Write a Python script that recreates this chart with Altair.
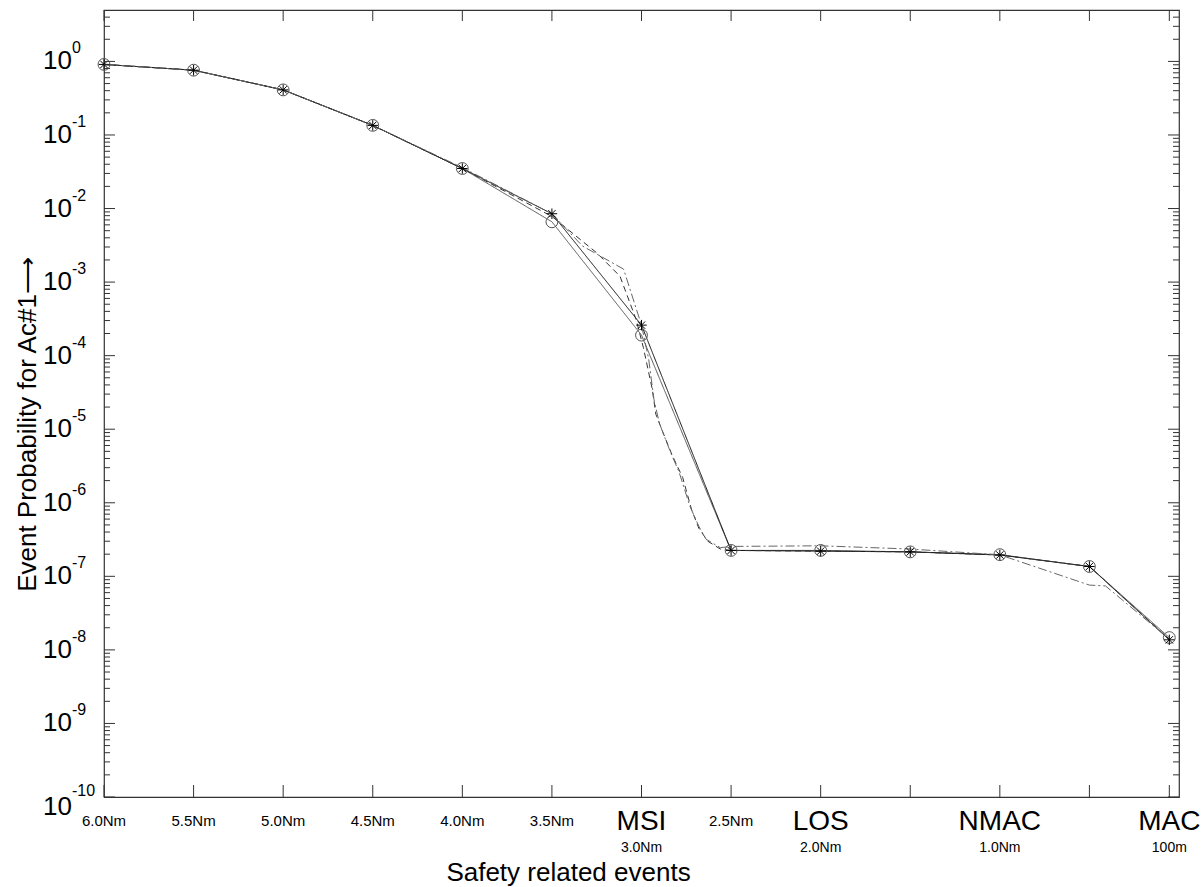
import altair as alt
import pandas as pd

# ---------------- data ----------------
# distance in Nm, plotted reversed from 6.0 Nm down to 0 (MAC = 100 m = 0.054 Nm)
dist = [6.0, 5.5, 5.0, 4.5, 4.0, 3.5, 3.0, 2.5, 2.0, 1.5, 1.0, 0.5, 0.054]
p_circle = [0.91, 0.76, 0.41, 0.135, 0.035, 0.0066, 1.9e-4, 2.25e-7, 2.25e-7, 2.15e-7, 1.97e-7, 1.36e-7, 1.47e-8]
p_star = [0.91, 0.76, 0.41, 0.135, 0.035, 0.0085, 2.6e-4, 2.25e-7, 2.2e-7, 2.15e-7, 1.95e-7, 1.36e-7, 1.37e-8]

dist_dash = [6.0, 5.5, 5.0, 4.5, 4.0, 3.5, 3.25, 3.12, 3.03, 2.99, 2.94, 2.92, 2.88, 2.83,
             2.77, 2.72, 2.68, 2.63, 2.56, 2.5, 2.0, 1.5, 1.0, 0.5, 0.054]
p_dash = [0.91, 0.76, 0.41, 0.135, 0.035, 0.0078, 2.5e-3, 1.2e-3, 3.1e-4, 1.3e-4, 3.5e-5, 1.6e-5,
          9e-6, 4.5e-6, 2.2e-6, 8e-7, 4.5e-7, 3e-7, 2.35e-7, 2.25e-7, 2.2e-7, 2.15e-7, 1.95e-7, 1.36e-7, 1.4e-8]

dist_dashdot = [6.0, 5.5, 5.0, 4.5, 4.0, 3.5, 3.33, 3.10, 3.0, 2.96, 2.93, 2.90, 2.84, 2.79,
                2.73, 2.68, 2.64, 2.56, 2.5, 2.0, 1.5, 1.0, 0.5, 0.41, 0.054]
p_dashdot = [0.91, 0.76, 0.41, 0.135, 0.036, 0.0085, 3.1e-3, 1.5e-3, 2.6e-4, 9e-5, 2.5e-5, 1.2e-5,
             5e-6, 2.6e-6, 9e-7, 4.8e-7, 3.2e-7, 2.45e-7, 2.55e-7, 2.6e-7, 2.35e-7, 1.96e-7, 7.6e-8, 7.4e-8, 1.4e-8]

small_lab_d = [6.0, 5.5, 5.0, 4.5, 4.0, 3.5, 2.5]
small_lab = ["6.0Nm", "5.5Nm", "5.0Nm", "4.5Nm", "4.0Nm", "3.5Nm", "2.5Nm"]
event_d = [3.0, 2.0, 1.0, 0.054]
event_name = ["MSI", "LOS", "NMAC", "MAC"]
event_sub = ["3.0Nm", "2.0Nm", "1.0Nm", "100m"]

exponents = list(range(0, -11, -1))

# ---------------- tables ----------------
series_names = ["circle", "star", "dashed", "dashdot"]
lines = pd.concat([
    pd.DataFrame({"d": dist, "p": p_circle, "s": "circle"}),
    pd.DataFrame({"d": dist, "p": p_star, "s": "star"}),
    pd.DataFrame({"d": dist_dash, "p": p_dash, "s": "dashed"}),
    pd.DataFrame({"d": dist_dashdot, "p": p_dashdot, "s": "dashdot"}),
], ignore_index=True)
lines["o"] = range(len(lines))

circ = pd.DataFrame({"d": dist, "p": p_circle})
star = pd.DataFrame({"d": dist, "p": p_star})

xt = pd.DataFrame({"d": dist})
major = pd.DataFrame({"p": [10.0 ** k for k in exponents]})
minor_vals = [m * 10.0 ** k for k in range(-10, 1) for m in range(2, 10) if m * 10.0 ** k < 4.9]
minor = pd.DataFrame({"p": minor_vals})

ylab = pd.DataFrame({"p": [10.0 ** k for k in exponents if k > -10],
                     "b": "10", "e": [str(k) for k in exponents if k > -10]})
ylab_bot = pd.DataFrame({"p": [1e-10], "b": "10", "e": ["-10"]})

small = pd.DataFrame({"d": small_lab_d, "t": small_lab})
events = pd.DataFrame({"d": event_d, "n": event_name, "sub": event_sub})

# ---------------- encodings ----------------
W, H = 1075, 787
FONT = "Liberation Sans, Arial, Helvetica, sans-serif"

xs = alt.Scale(domain=[0, 6], reverse=True, nice=False, zero=False)
ys = alt.Scale(type="log", domain=[1e-10, 5], nice=False)
xaxis = alt.Axis(title="Safety related events", labels=False, ticks=False, domain=False, grid=False,
                 titleFont=FONT, titleFontSize=26, titleFontWeight="normal", titleColor="black",
                 titleX=464, titleY=75, titleBaseline="middle", titleAlign="center")
yaxis = alt.Axis(title="Event Probability for Ac#1\u27f6", labels=False, ticks=False, domain=False, grid=False,
                 titleFont=FONT, titleFontSize=26, titleFontWeight="normal", titleColor="black",
                 titleX=-77, titleY=414, titleBaseline="middle", titleAlign="center", titleAngle=270)


def X(f="d"):
    return alt.X(f + ":Q", scale=xs, axis=xaxis)


def Y(f="p"):
    return alt.Y(f + ":Q", scale=ys, axis=yaxis)


line_layer = alt.Chart(lines).mark_line(strokeWidth=1, clip=True).encode(
    x=X(), y=Y(),
    detail="s:N",
    order="o:Q",
    color=alt.Color("s:N", scale=alt.Scale(domain=series_names, range=["#555555", "#111111", "#333333", "#666666"]), legend=None),
    strokeDash=alt.StrokeDash("s:N", scale=alt.Scale(domain=series_names, range=[[1, 0], [1, 0], [6, 4], [9, 3, 2, 3]]), legend=None),
)

circle_layer = alt.Chart(circ).mark_point(shape="circle", size=140, filled=False, color="#555555", strokeWidth=1, opacity=1).encode(
    x=X(), y=Y())

star_path = "M-1,0L1,0M0,-1L0,1M-0.7,-0.7L0.7,0.7M-0.7,0.7L0.7,-0.7"
star_layer = alt.Chart(star).mark_point(shape=star_path, size=110, filled=False, color="#000000", strokeWidth=1, opacity=1).encode(
    x=X(), y=Y())

TICK = "#333333"
xt_bottom = alt.Chart(xt).mark_rule(color=TICK, strokeWidth=1).encode(x=X(), y=alt.value(H), y2=alt.value(H - 12))
xt_top = alt.Chart(xt).mark_rule(color=TICK, strokeWidth=1).encode(x=X(), y=alt.value(0), y2=alt.value(11))
yt_l_major = alt.Chart(major).mark_rule(color=TICK, strokeWidth=1).encode(y=Y(), x=alt.value(0), x2=alt.value(11))
yt_l_minor = alt.Chart(minor).mark_rule(color=TICK, strokeWidth=1).encode(y=Y(), x=alt.value(0), x2=alt.value(6))
yt_r_major = alt.Chart(major).mark_rule(color=TICK, strokeWidth=1).encode(y=Y(), x=alt.value(W), x2=alt.value(W - 11))
yt_r_minor = alt.Chart(minor).mark_rule(color=TICK, strokeWidth=1).encode(y=Y(), x=alt.value(W), x2=alt.value(W - 6))

ylab_base = alt.Chart(ylab).mark_text(align="right", baseline="middle", font=FONT, fontSize=26, color="black").encode(
    y=Y(), x=alt.value(-32), text="b:N")
ylab_exp = alt.Chart(ylab).mark_text(align="left", baseline="middle", font=FONT, fontSize=16, dy=-13, color="black").encode(
    y=Y(), x=alt.value(-32), text="e:N")
ylab_bot_base = alt.Chart(ylab_bot).mark_text(align="right", baseline="middle", font=FONT, fontSize=26, dy=10, color="black").encode(
    y=Y(), x=alt.value(-32), text="b:N")
ylab_bot_exp = alt.Chart(ylab_bot).mark_text(align="left", baseline="middle", font=FONT, fontSize=16, dy=-6, color="black").encode(
    y=Y(), x=alt.value(-32), text="e:N")

small_text = alt.Chart(small).mark_text(align="center", baseline="middle", font=FONT, fontSize=15, color="black").encode(
    x=X(), y=alt.value(H + 24), text="t:N")
event_text = alt.Chart(events).mark_text(align="center", baseline="middle", font=FONT, fontSize=28, color="black").encode(
    x=X(), y=alt.value(H + 25), text="n:N")
event_sub_text = alt.Chart(events).mark_text(align="center", baseline="middle", font=FONT, fontSize=14, color="black").encode(
    x=X(), y=alt.value(H + 51), text="sub:N")

chart = alt.layer(
    line_layer, circle_layer, star_layer,
    xt_bottom, xt_top, yt_l_major, yt_l_minor, yt_r_major, yt_r_minor,
    ylab_base, ylab_exp, ylab_bot_base, ylab_bot_exp,
    small_text, event_text, event_sub_text,
).properties(
    width=W, height=H,
    padding={"left": 104, "top": 10, "right": 24, "bottom": 90},
    autosize=alt.AutoSizeParams(type="none"),
    background="white",
).configure_view(stroke="#333333", strokeWidth=1.2)

chart.save("out.html", embed_options={"renderer": "svg", "actions": False})
